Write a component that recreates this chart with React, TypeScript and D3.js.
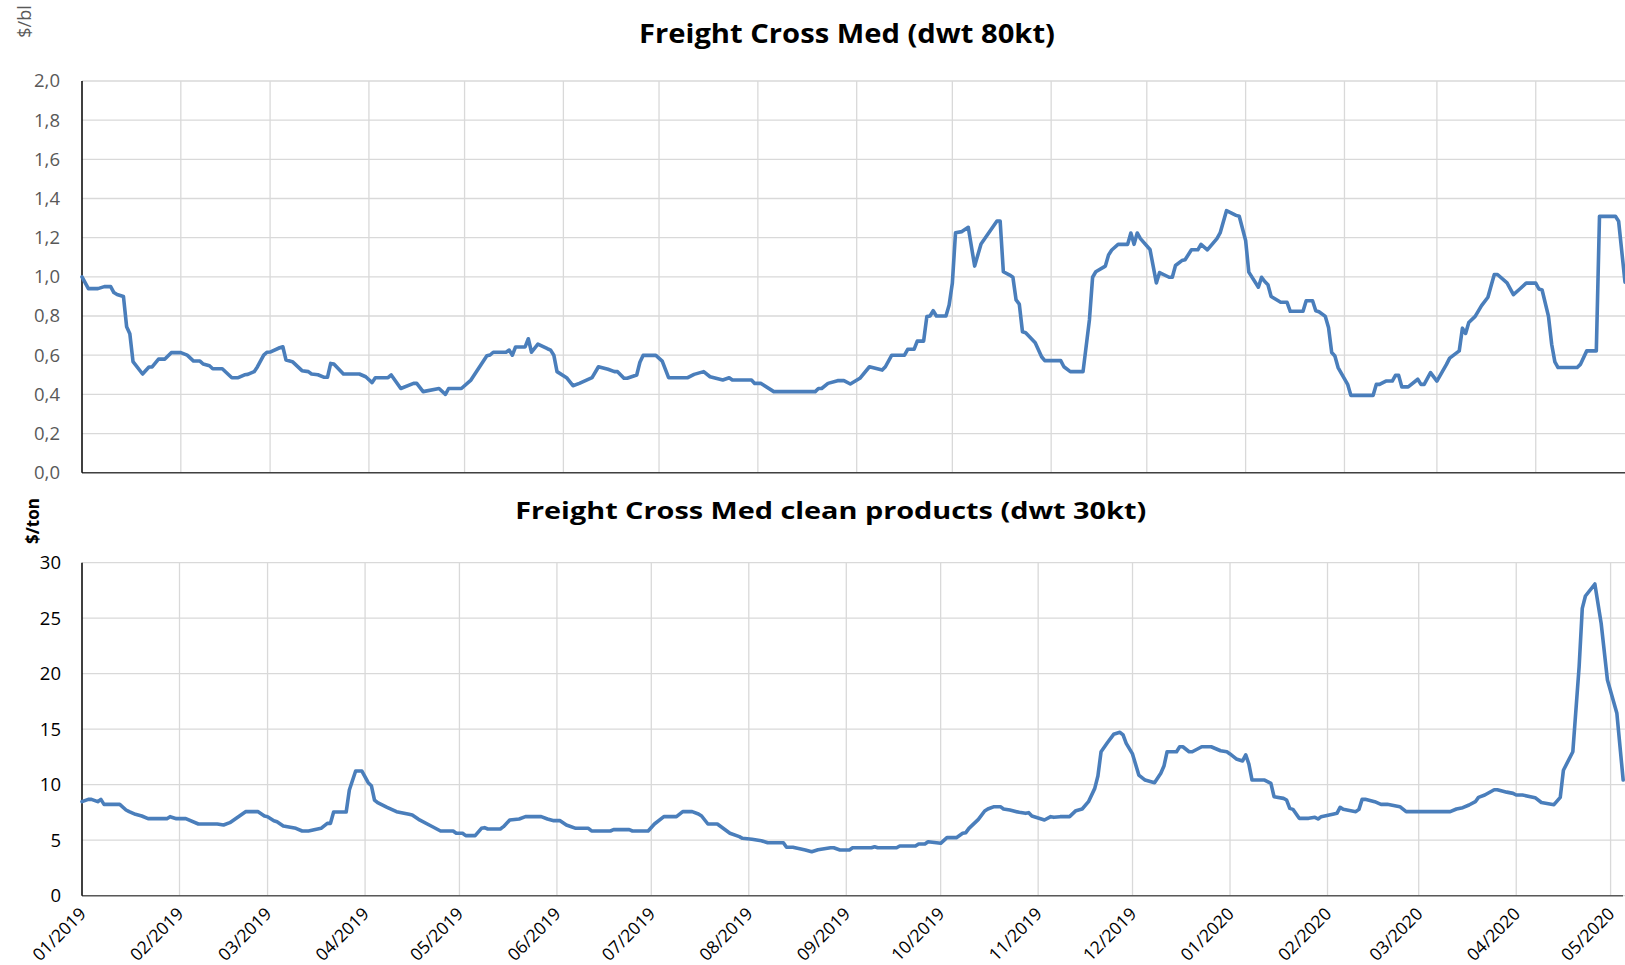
import React from "react";
import * as d3 from "d3";

const topDates = [
  "2019-01-01","2019-01-03","2019-01-06","2019-01-08","2019-01-10","2019-01-11","2019-01-12","2019-01-14","2019-01-15","2019-01-16",
  "2019-01-17","2019-01-20","2019-01-22","2019-01-23","2019-01-25","2019-01-27","2019-01-29","2019-02-01","2019-02-03","2019-02-05",
  "2019-02-07","2019-02-08","2019-02-10","2019-02-11","2019-02-14","2019-02-17","2019-02-19","2019-02-21","2019-02-22","2019-02-24",
  "2019-02-25","2019-02-27","2019-02-28","2019-03-01","2019-03-04","2019-03-05","2019-03-06","2019-03-08","2019-03-11","2019-03-13",
  "2019-03-14","2019-03-16","2019-03-18","2019-03-19","2019-03-20","2019-03-21","2019-03-24","2019-03-29","2019-03-31","2019-04-02",
  "2019-04-03","2019-04-07","2019-04-08","2019-04-11","2019-04-15","2019-04-16","2019-04-18","2019-04-23","2019-04-25","2019-04-26",
  "2019-04-30","2019-05-03","2019-05-08","2019-05-09","2019-05-10","2019-05-14","2019-05-15","2019-05-16","2019-05-17","2019-05-20",
  "2019-05-21","2019-05-22","2019-05-24","2019-05-27","2019-05-28","2019-05-29","2019-05-30","2019-06-02","2019-06-04","2019-06-06",
  "2019-06-10","2019-06-12","2019-06-15","2019-06-17","2019-06-18","2019-06-20","2019-06-21","2019-06-24","2019-06-25","2019-06-26",
  "2019-06-30","2019-07-02","2019-07-04","2019-07-10","2019-07-12","2019-07-15","2019-07-17","2019-07-21","2019-07-23","2019-07-24",
  "2019-07-30","2019-07-31","2019-08-02","2019-08-06","2019-08-19","2019-08-20","2019-08-21","2019-08-23","2019-08-26","2019-08-28",
  "2019-08-30","2019-09-02","2019-09-05","2019-09-09","2019-09-10","2019-09-12","2019-09-16","2019-09-17","2019-09-19","2019-09-20",
  "2019-09-22","2019-09-23","2019-09-24","2019-09-25","2019-09-26","2019-09-29","2019-09-30","2019-10-01","2019-10-02","2019-10-04",
  "2019-10-06","2019-10-08","2019-10-10","2019-10-15","2019-10-16","2019-10-17","2019-10-19","2019-10-20","2019-10-21","2019-10-22",
  "2019-10-23","2019-10-24","2019-10-27","2019-10-29","2019-10-30","2019-11-04","2019-11-05","2019-11-07","2019-11-11","2019-11-13",
  "2019-11-14","2019-11-15","2019-11-18","2019-11-19","2019-11-20","2019-11-22","2019-11-25","2019-11-26","2019-11-27","2019-11-28",
  "2019-11-29","2019-12-02","2019-12-04","2019-12-05","2019-12-08","2019-12-09","2019-12-10","2019-12-12","2019-12-13","2019-12-15",
  "2019-12-17","2019-12-18","2019-12-20","2019-12-23","2019-12-24","2019-12-26","2019-12-29","2019-12-30","2020-01-01","2020-01-02",
  "2020-01-05","2020-01-06","2020-01-07","2020-01-08","2020-01-09","2020-01-12","2020-01-14","2020-01-15","2020-01-19","2020-01-20",
  "2020-01-22","2020-01-23","2020-01-24","2020-01-26","2020-01-27","2020-01-28","2020-01-29","2020-01-30","2020-02-02","2020-02-03",
  "2020-02-10","2020-02-11","2020-02-12","2020-02-14","2020-02-16","2020-02-17","2020-02-18","2020-02-19","2020-02-21","2020-02-24",
  "2020-02-25","2020-02-26","2020-02-28","2020-03-01","2020-03-04","2020-03-05","2020-03-08","2020-03-09","2020-03-10","2020-03-11",
  "2020-03-13","2020-03-15","2020-03-17","2020-03-18","2020-03-19","2020-03-20","2020-03-23","2020-03-25","2020-03-27","2020-03-29",
  "2020-04-01","2020-04-02","2020-04-03","2020-04-05","2020-04-06","2020-04-07","2020-04-08","2020-04-14","2020-04-15","2020-04-17",
  "2020-04-20","2020-04-21","2020-04-26","2020-04-27","2020-04-29"
];
const topValues = [
  1.0,0.94,0.94,0.95,0.95,0.92,0.91,0.9,0.745,0.71,
  0.567,0.504,0.54,0.54,0.58,0.58,0.613,0.613,0.6,0.57,
  0.57,0.555,0.546,0.531,0.531,0.485,0.485,0.5,0.502,0.516,
  0.54,0.6,0.615,0.616,0.638,0.643,0.575,0.567,0.521,0.516,
  0.504,0.5,0.487,0.487,0.558,0.555,0.504,0.504,0.49,0.46,
  0.485,0.485,0.499,0.43,0.456,0.456,0.414,0.43,0.4,0.43,
  0.43,0.473,0.597,0.601,0.615,0.615,0.626,0.6,0.642,0.642,
  0.684,0.615,0.657,0.633,0.626,0.6,0.516,0.485,0.444,0.456,
  0.485,0.541,0.528,0.516,0.516,0.482,0.482,0.499,0.564,0.599,
  0.599,0.57,0.485,0.485,0.502,0.516,0.49,0.473,0.485,0.473,
  0.473,0.456,0.456,0.414,0.414,0.43,0.43,0.456,0.47,0.47,
  0.453,0.482,0.541,0.524,0.541,0.6,0.6,0.63,0.63,0.672,
  0.672,0.797,0.8,0.827,0.8,0.8,0.856,0.967,1.225,1.231,
  1.253,1.055,1.168,1.285,1.285,1.026,1.009,0.998,0.882,0.861,
  0.72,0.715,0.664,0.592,0.572,0.572,0.541,0.516,0.516,0.78,
  0.998,1.026,1.055,1.112,1.137,1.166,1.166,1.224,1.166,1.224,
  1.195,1.14,0.969,1.022,0.998,0.998,1.058,1.083,1.087,1.138,
  1.138,1.166,1.138,1.195,1.224,1.338,1.314,1.309,1.186,1.024,
  0.947,0.998,0.976,0.96,0.9,0.87,0.87,0.824,0.824,0.878,
  0.878,0.827,0.822,0.798,0.742,0.614,0.596,0.537,0.451,0.395,
  0.395,0.451,0.451,0.468,0.468,0.497,0.497,0.438,0.438,0.477,
  0.451,0.451,0.511,0.468,0.553,0.585,0.622,0.738,0.711,0.767,
  0.798,0.853,0.896,0.955,1.012,1.012,0.969,0.909,0.938,0.968,
  0.968,0.938,0.933,0.798,0.656,0.566,0.537,0.537,0.553,0.622,
  0.622,1.309,1.309,1.284,0.973
];

const bottomDates = [
  "2019-01-01","2019-01-03","2019-01-04","2019-01-06","2019-01-07","2019-01-08","2019-01-13","2019-01-15","2019-01-16","2019-01-18",
  "2019-01-20","2019-01-22","2019-01-28","2019-01-29","2019-01-31","2019-02-03","2019-02-07","2019-02-13","2019-02-15","2019-02-17",
  "2019-02-22","2019-02-26","2019-02-28","2019-03-01","2019-03-03","2019-03-04","2019-03-06","2019-03-10","2019-03-12","2019-03-14",
  "2019-03-18","2019-03-20","2019-03-21","2019-03-22","2019-03-26","2019-03-27","2019-03-29","2019-03-31","2019-04-02","2019-04-03",
  "2019-04-04","2019-04-05","2019-04-08","2019-04-11","2019-04-15","2019-04-16","2019-04-18","2019-04-22","2019-04-25","2019-04-29",
  "2019-04-30","2019-05-02","2019-05-03","2019-05-06","2019-05-08","2019-05-09","2019-05-10","2019-05-14","2019-05-15","2019-05-17",
  "2019-05-20","2019-05-22","2019-05-27","2019-05-29","2019-05-31","2019-06-02","2019-06-04","2019-06-07","2019-06-11","2019-06-12",
  "2019-06-18","2019-06-19","2019-06-24","2019-06-25","2019-06-30","2019-07-02","2019-07-05","2019-07-09","2019-07-11","2019-07-14",
  "2019-07-16","2019-07-17","2019-07-19","2019-07-22","2019-07-26","2019-07-29","2019-07-30","2019-08-02","2019-08-05","2019-08-07",
  "2019-08-12","2019-08-13","2019-08-15","2019-08-19","2019-08-21","2019-08-23","2019-08-27","2019-08-28","2019-08-30","2019-09-02",
  "2019-09-03","2019-09-09","2019-09-10","2019-09-11","2019-09-17","2019-09-18","2019-09-23","2019-09-24","2019-09-26","2019-09-27",
  "2019-10-01","2019-10-03","2019-10-06","2019-10-08","2019-10-09","2019-10-10","2019-10-13","2019-10-15","2019-10-16","2019-10-18",
  "2019-10-20","2019-10-21","2019-10-23","2019-10-26","2019-10-28","2019-10-29","2019-10-30","2019-11-03","2019-11-05","2019-11-06",
  "2019-11-08","2019-11-11","2019-11-13","2019-11-15","2019-11-17","2019-11-19","2019-11-20","2019-11-21","2019-11-23","2019-11-25",
  "2019-11-26","2019-11-27","2019-11-28","2019-11-29","2019-12-01","2019-12-03","2019-12-05","2019-12-08","2019-12-10","2019-12-11",
  "2019-12-12","2019-12-15","2019-12-16","2019-12-17","2019-12-19","2019-12-20","2019-12-23","2019-12-26","2019-12-29","2019-12-31",
  "2020-01-01","2020-01-03","2020-01-05","2020-01-06","2020-01-07","2020-01-08","2020-01-12","2020-01-14","2020-01-15","2020-01-18",
  "2020-01-19","2020-01-20","2020-01-21","2020-01-23","2020-01-26","2020-01-28","2020-01-29","2020-01-30","2020-02-03","2020-02-04",
  "2020-02-05","2020-02-06","2020-02-10","2020-02-11","2020-02-12","2020-02-13","2020-02-16","2020-02-18","2020-02-20","2020-02-24",
  "2020-02-26","2020-03-11","2020-03-13","2020-03-15","2020-03-17","2020-03-19","2020-03-20","2020-03-22","2020-03-25","2020-03-26",
  "2020-03-29","2020-03-31","2020-04-01","2020-04-03","2020-04-07","2020-04-09","2020-04-13","2020-04-15","2020-04-16","2020-04-19",
  "2020-04-21","2020-04-22","2020-04-23","2020-04-26","2020-04-28","2020-04-30","2020-05-03","2020-05-05"
];
const bottomValues = [
  8.47,8.68,8.68,8.47,8.68,8.23,8.23,7.72,7.57,7.33,
  7.18,6.94,6.94,7.12,6.94,6.94,6.46,6.46,6.37,6.58,
  7.57,7.57,7.18,7.12,6.76,6.67,6.28,6.07,5.83,5.83,
  6.07,6.52,6.52,7.54,7.54,9.52,11.23,11.23,10.18,9.91,
  8.62,8.38,7.96,7.57,7.33,7.27,6.88,6.28,5.83,5.83,
  5.62,5.62,5.41,5.41,6.07,6.13,6.01,6.01,6.22,6.82,
  6.91,7.12,7.12,6.91,6.76,6.76,6.37,6.07,6.07,5.83,
  5.83,5.95,5.95,5.83,5.83,6.46,7.12,7.12,7.57,7.57,
  7.36,7.18,6.46,6.46,5.62,5.32,5.17,5.08,4.95,4.77,
  4.77,4.36,4.36,4.12,3.96,4.14,4.32,4.32,4.12,4.12,
  4.32,4.32,4.41,4.32,4.32,4.48,4.48,4.66,4.66,4.86,
  4.72,5.23,5.23,5.62,5.68,6.07,6.88,7.63,7.81,8.02,
  8.02,7.81,7.72,7.51,7.42,7.48,7.18,6.82,7.12,7.06,
  7.12,7.12,7.66,7.81,8.47,9.67,10.78,12.97,13.78,14.54,
  14.63,14.72,14.48,13.73,12.77,10.87,10.42,10.18,11.03,11.68,
  12.97,12.97,13.42,13.42,12.97,12.97,13.42,13.42,13.06,12.97,
  12.77,12.32,12.14,12.68,11.86,10.42,10.42,10.12,8.92,8.77,
  8.62,7.87,7.78,6.97,6.97,7.06,6.91,7.12,7.36,7.42,
  7.96,7.78,7.57,7.78,8.68,8.68,8.47,8.23,8.23,8.02,
  7.57,7.57,7.81,7.93,8.17,8.47,8.86,9.07,9.55,9.55,
  9.33,9.22,9.07,9.07,8.83,8.4,8.2,8.86,11.3,12.97,
  20.63,25.89,27.0,28.08,24.54,19.43,16.43,10.42
];

const topYTicks = [0, 0.2, 0.4, 0.6, 0.8, 1.0, 1.2, 1.4, 1.6, 1.8, 2.0];
const bottomYTicks = [0, 5, 10, 15, 20, 25, 30];
const monthTicks = [
  "2019-01-01","2019-02-01","2019-03-01","2019-04-01","2019-05-01","2019-06-01","2019-07-01","2019-08-01","2019-09-01",
  "2019-10-01","2019-11-01","2019-12-01","2020-01-01","2020-02-01","2020-03-01","2020-04-01","2020-05-01"
];
const topTitle = "Freight Cross Med (dwt 80kt)";
const bottomTitle = "Freight Cross Med clean products (dwt 30kt)";

const parse = d3.utcParse("%Y-%m-%d");
const fmtMonth = d3.utcFormat("%m/%Y");
const FONT = "'Open Sans', 'Noto Sans', sans-serif";

export default function App() {
  const W = 1625, H = 965;
  const left = 82, right = 1625;
  const lineColor = "#4a7ebb";
  const gridColor = "#d9d9d9";

  const topX = d3.scaleUtc().domain([parse("2019-01-01")!, parse("2020-04-29")!]).range([left, right]);
  const topY = d3.scaleLinear().domain([0, 2]).range([472.7, 81]);
  const botX = d3.scaleUtc().domain([parse("2019-01-01")!, new Date(Date.UTC(2020, 4, 5, 14))]).range([left, right]);
  const botY = d3.scaleLinear().domain([0, 30]).range([895.7, 562.7]);

  const topData = topDates.map((d, i) => ({ date: parse(d)!, v: topValues[i] }));
  const botData = bottomDates.map((d, i) => ({ date: parse(d)!, v: bottomValues[i] }));

  const topLine = d3.line<any>().x(d => topX(d.date)).y(d => topY(d.v))(topData) || "";
  const botLine = d3.line<any>().x(d => botX(d.date)).y(d => botY(d.v))(botData) || "";

  const months = monthTicks.map(m => parse(m)!);
  const topMonths = months.filter(m => m > months[0] && topX(m) <= right);
  const botMonths = months.filter(m => m > months[0]);

  return (
    <svg width={W} height={H} style={{ position: "absolute", left: 0, top: 0, background: "#fff" }}
      fontFamily={FONT}>
      <rect x={0} y={0} width={W} height={H} fill="#fff" />
      {/* ===== Top chart ===== */}
      <text x={847} y={43} textAnchor="middle" fontWeight="bold" fontSize={27} textLength={416}
        lengthAdjust="spacingAndGlyphs" fill="#000">{topTitle}</text>
      <text transform="translate(31,21.5) rotate(-90)" textAnchor="middle" fontSize={18} fill="#595959">$/bl</text>
      {topYTicks.map(t => (
        <line key={"tg" + t} x1={left} x2={right} y1={topY(t)} y2={topY(t)} stroke={gridColor} strokeWidth={1.3} />
      ))}
      {topMonths.map(m => (
        <line key={"tv" + m.getTime()} x1={topX(m)} x2={topX(m)} y1={topY(2)} y2={topY(0)} stroke={gridColor} strokeWidth={1.3} />
      ))}
      {topYTicks.map(t => (
        <text key={"tl" + t} x={60} y={topY(t)} dy="0.35em" textAnchor="end" fontSize={18.5} fill="#595959">
          {d3.format(".1f")(t).replace(".", ",")}
        </text>
      ))}
      <line x1={left} x2={right} y1={topY(0)} y2={topY(0)} stroke="#404040" strokeWidth={1.5} />
      <line x1={left} x2={left} y1={topY(2)} y2={topY(0)} stroke="#000" strokeWidth={1.5} />
      <path d={topLine} fill="none" stroke={lineColor} strokeWidth={3.6} strokeLinejoin="round" strokeLinecap="round" />

      {/* ===== Bottom chart ===== */}
      <text x={830.7} y={519} textAnchor="middle" fontWeight="bold" fontSize={24} textLength={631}
        lengthAdjust="spacingAndGlyphs" fill="#000">{bottomTitle}</text>
      <text transform="translate(39,521) rotate(-90)" textAnchor="middle" fontSize={17} fontWeight="bold" fill="#000">$/ton</text>
      {bottomYTicks.map(t => (
        <line key={"bg" + t} x1={left} x2={right} y1={botY(t)} y2={botY(t)} stroke={gridColor} strokeWidth={1.3} />
      ))}
      {botMonths.map(m => (
        <line key={"bv" + m.getTime()} x1={botX(m)} x2={botX(m)} y1={botY(30)} y2={botY(0)} stroke={gridColor} strokeWidth={1.3} />
      ))}
      {bottomYTicks.map(t => (
        <text key={"bl" + t} x={61} y={botY(t)} dy="0.35em" textAnchor="end" fontSize={18.5} fill="#000">{t}</text>
      ))}
      {months.map(m => (
        <text key={"xl" + m.getTime()} transform={`translate(${botX(m) + 5},${915}) rotate(-45)`}
          textAnchor="end" fontSize={17.5} fill="#000">{fmtMonth(m)}</text>
      ))}
      <line x1={left} x2={1623} y1={botY(0)} y2={botY(0)} stroke="#595959" strokeWidth={1.5} />
      <line x1={left} x2={left} y1={botY(30)} y2={botY(0)} stroke="#000" strokeWidth={1.5} />
      <path d={botLine} fill="none" stroke={lineColor} strokeWidth={3.6} strokeLinejoin="round" strokeLinecap="round" />
    </svg>
  );
}
